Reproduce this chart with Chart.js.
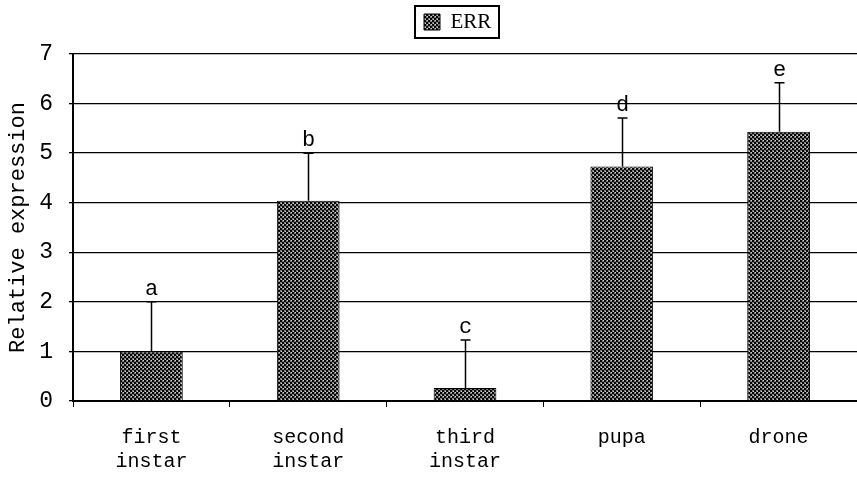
<!DOCTYPE html>
<html>
<head>
<meta charset="utf-8">
<script src="https://cdn.jsdelivr.net/npm/chart.js@4/dist/chart.umd.min.js"></script>
<style>
  html, body { margin: 0; padding: 0; background: #fff; }
  #wrap { width: 857px; height: 481px; position: relative; }
</style>
</head>
<body>
<div id="wrap"><canvas id="c"></canvas></div>
<script>
const categories = [['first', 'instar'], ['second', 'instar'], ['third', 'instar'], ['pupa'], ['drone']];
const errValues = [1.0, 4.04, 0.26, 4.73, 5.43];
const errBars = [1.0, 0.96, 0.97, 0.98, 0.99];
const sigLetters = ['a', 'b', 'c', 'd', 'e'];
const yTicks = [0, 1, 2, 3, 4, 5, 6, 7];

const LEGEND_PAD = 13;
const LEGEND_FONT = 21;

function makePattern() {
  const p = document.createElement('canvas');
  p.width = 4; p.height = 4;
  const g = p.getContext('2d');
  g.fillStyle = '#7a7a7a'; g.fillRect(0, 0, 4, 4);
  g.fillStyle = '#050505';
  g.fillRect(0, 0, 2, 2);
  g.fillRect(2, 2, 2, 2);
  g.fillStyle = '#d0d0d0';
  g.fillRect(3, 0, 1, 1);
  g.fillRect(1, 3, 1, 1);
  return document.getElementById('c').getContext('2d').createPattern(p, 'repeat');
}
const pattern = makePattern();

const errorPlugin = {
  id: 'errorBars',
  afterDatasetsDraw(chart) {
    const ctx = chart.ctx;
    const meta = chart.getDatasetMeta(0);
    const y = chart.scales.y;
    ctx.save();
    ctx.strokeStyle = '#000';
    ctx.lineWidth = 1.5;
    ctx.fillStyle = '#000';
    ctx.font = '22px "Liberation Mono", monospace';
    ctx.textAlign = 'center';
    ctx.textBaseline = 'bottom';
    meta.data.forEach((bar, i) => {
      const x = Math.round(bar.x) + 0.5;
      const yTop = y.getPixelForValue(errValues[i]);
      const yErr = y.getPixelForValue(errValues[i] + errBars[i]);
      ctx.beginPath();
      ctx.moveTo(x, yTop);
      ctx.lineTo(x, yErr);
      ctx.moveTo(x - 5, yErr);
      ctx.lineTo(x + 5, yErr);
      ctx.stroke();
      ctx.fillText(sigLetters[i], x, yErr - 2);
    });
    ctx.restore();
  }
};

const legendBox = {
  id: 'legendBox',
  afterLayout(chart) {
    const lg = chart.legend;
    if (!lg || !lg.legendHitBoxes.length) return;
    const w = lg.lineWidths ? lg.lineWidths[0] : 0;
    const pad = LEGEND_PAD;
    const curLeft = (lg.left + pad + lg.right - w) / 2;
    const dx = 424 - curLeft;
    const dy = 22 - (lg.top + pad + LEGEND_FONT / 2);
    lg.left += dx; lg.right += dx;
    lg.top += dy; lg.bottom += dy;
  },
  afterDraw(chart) {
    const lg = chart.legend;
    if (!lg) return;
    const w = lg.lineWidths ? lg.lineWidths[0] : 0;
    const pad = LEGEND_PAD;
    const left = (lg.left + pad + lg.right - w) / 2;
    const cy = lg.top + pad + LEGEND_FONT / 2;
    const ctx = chart.ctx;
    ctx.save();
    ctx.strokeStyle = '#000';
    ctx.lineWidth = 2;
    ctx.strokeRect(Math.round(left - 9), Math.round(cy - 16), Math.round(w + 4), 32);
    ctx.restore();
  }
};

new Chart(document.getElementById('c'), {
  type: 'bar',
  data: {
    labels: categories,
    datasets: [{
      label: 'ERR',
      data: errValues,
      backgroundColor: pattern,
      borderColor: '#000',
      borderWidth: 1,
      barPercentage: 0.4,
      categoryPercentage: 1.0
    }]
  },
  options: {
    responsive: true,
    maintainAspectRatio: false,
    animation: false,
    layout: { padding: { top: 10, right: 0, left: 0, bottom: 0 } },
    plugins: {
      legend: {
        display: true,
        position: 'top',
        labels: {
          color: '#000',
          font: { family: '"Liberation Serif", serif', size: LEGEND_FONT },
          boxWidth: 16,
          boxHeight: 16,
          padding: LEGEND_PAD
        }
      },
      tooltip: { enabled: false }
    },
    scales: {
      x: {
        afterFit(s) { s.height = 80; },
        grid: { offset: true, drawOnChartArea: false, drawTicks: true, tickLength: 6, color: '#000', lineWidth: 1 },
        border: { display: true, color: '#000', width: 2 },
        ticks: {
          color: '#000',
          font: { family: '"Liberation Mono", monospace', size: 20 },
          padding: 19,
          maxRotation: 0,
          autoSkip: false
        }
      },
      y: {
        min: 0,
        max: 7,
        afterFit(s) { s.width = 73; },
        afterBuildTicks(s) { s.ticks = yTicks.map(v => ({ value: v })); },
        grid: { color: '#000', lineWidth: 1.3, drawTicks: true, tickLength: 4 },
        border: { display: true, color: '#000', width: 2 },
        ticks: {
          color: '#000',
          font: { family: '"Liberation Mono", monospace', size: 23 },
          padding: 16
        },
        title: {
          display: true,
          text: 'Relative expression',
          color: '#000',
          font: { family: '"Liberation Mono", monospace', size: 22 },
          padding: { top: 5, bottom: 0 }
        }
      }
    }
  },
  plugins: [errorPlugin, legendBox]
});
</script>
</body>
</html>
